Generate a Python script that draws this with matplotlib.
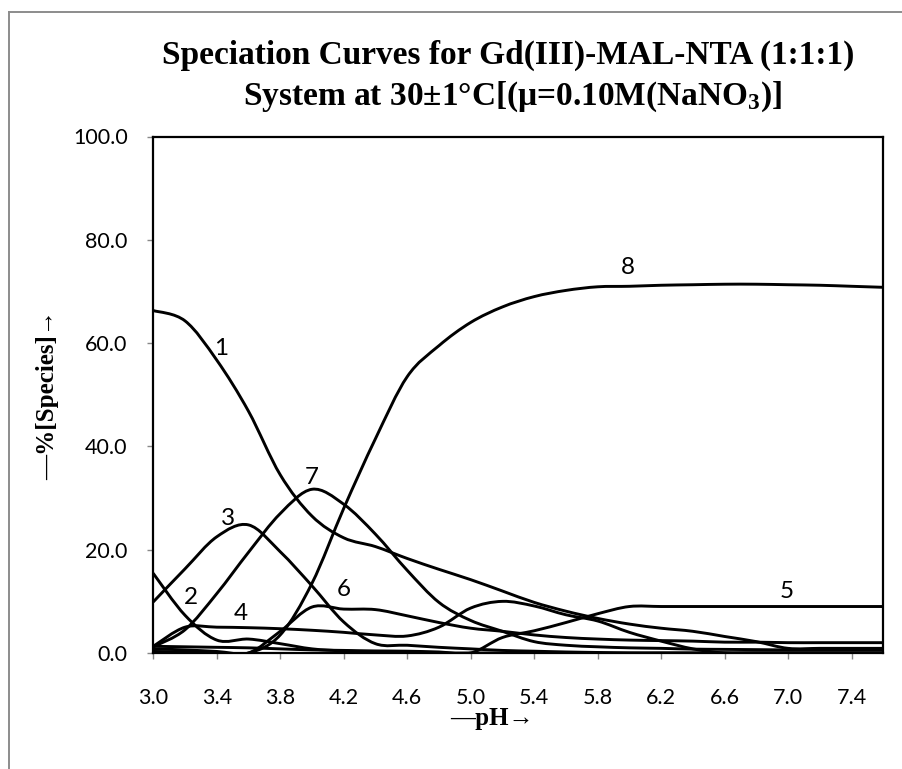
import matplotlib
matplotlib.use('Agg')
import matplotlib.pyplot as plt
import numpy as np
from matplotlib.path import Path
from matplotlib.patches import PathPatch
from matplotlib.lines import Line2D

plt.rcParams['mathtext.fontset'] = 'custom'
plt.rcParams['mathtext.rm'] = 'Liberation Serif:bold'
plt.rcParams['mathtext.bf'] = 'Liberation Serif:bold'
plt.rcParams['mathtext.it'] = 'Liberation Serif:bold'

# pH values and % of each species
ph = [3.0, 3.2, 3.4, 3.6, 3.8, 4.0, 4.2, 4.4, 4.6, 4.8, 5.0, 5.2,
      5.4, 5.6, 5.8, 6.0, 6.2, 6.4, 6.6, 6.8, 7.0, 7.2, 7.4, 7.6]

sp1 = [66.3, 64.3, 56.7, 46.8, 34.5, 26.5, 22.3, 20.6, 18.3, 16.2, 14.2, 12.0,
       9.8, 8.1, 6.7, 5.6, 4.8, 4.2, 3.2, 2.2, 0.9, 0.9, 0.9, 0.9]
sp2 = [15.4, 7.3, 2.5, 2.7, 1.8, 0.8, 0.4, 0.2, 0.1, 0.0, 0.0, 0.0,
       0.0, 0.0, 0.0, 0.0, 0.0, 0.0, 0.0, 0.0, 0.0, 0.0, 0.0, 0.0]
sp3 = [9.9, 16.3, 22.5, 24.8, 19.6, 13.0, 6.0, 1.8, 1.5, 1.1, 0.8, 0.5,
       0.35, 0.2, 0.1, 0.0, 0.0, 0.0, 0.0, 0.0, 0.0, 0.0, 0.0, 0.0]
sp4 = [1.3, 5.0, 5.0, 4.9, 4.7, 4.4, 4.0, 3.5, 3.3, 5.0, 8.7, 10.0,
       9.1, 7.4, 6.2, 4.0, 2.3, 0.8, 0.0, 0.0, 0.0, 0.0, 0.0, 0.0]
sp5 = [1.3, 1.2, 1.1, 1.0, 0.8, 0.6, 0.5, 0.4, 0.35, 0.2, 0.0, 3.0,
       4.3, 5.9, 7.6, 9.0, 9.0, 9.0, 9.0, 9.0, 9.0, 9.0, 9.0, 9.0]
sp6 = [0.3, 0.2, 0.1, 0.0, 4.2, 8.9, 8.5, 8.4, 7.2, 5.9, 4.8, 4.2,
       3.5, 3.0, 2.7, 2.5, 2.4, 2.3, 2.1, 2.1, 2.0, 2.0, 2.0, 2.0]
sp7 = [1.2, 4.5, 11.5, 19.5, 27.0, 31.7, 28.8, 23.0, 16.0, 9.8, 6.3, 4.2,
       2.2, 1.5, 1.2, 1.0, 0.9, 0.75, 0.7, 0.65, 0.6, 0.6, 0.6, 0.6]
sp8 = [0.8, 0.6, 0.3, 0.0, 3.5, 13.5, 28.0, 41.5, 53.5, 59.5, 64.0, 67.0,
       69.0, 70.2, 70.9, 71.0, 71.2, 71.3, 71.4, 71.4, 71.3, 71.2, 71.0, 70.8]

species = [sp1, sp2, sp3, sp4, sp5, sp6, sp7, sp8]

# curve numbers: (label, pH, %)
labels = [('1', 3.43, 58.9), ('2', 3.24, 10.8), ('3', 3.47, 26.1), ('4', 3.55, 7.7),
          ('5', 6.99, 11.9), ('6', 4.20, 12.2), ('7', 4.00, 34.0), ('8', 5.99, 74.7)]


def smooth_path(x, y):
    # smoothed line like a spreadsheet chart: Catmull-Rom segments as cubic Beziers
    pts = np.column_stack([x, y])
    ext = np.vstack([pts[0], pts, pts[-1]])
    verts = [pts[0]]
    codes = [Path.MOVETO]
    for i in range(len(pts) - 1):
        p0, p1, p2, p3 = ext[i], ext[i + 1], ext[i + 2], ext[i + 3]
        verts += [p1 + (p2 - p0) / 6, p2 - (p3 - p1) / 6, p2]
        codes += [Path.CURVE4] * 3
    return Path(verts, codes)


fig = plt.figure(figsize=(9.03, 7.69), dpi=100)
ax = fig.add_axes([153.3 / 903, 1 - 653 / 769, 730 / 903, 516.5 / 769])

for s in species:
    ax.add_patch(PathPatch(smooth_path(ph, s), fill=False, lw=2.1, ec='black',
                           capstyle='round', joinstyle='round'))

for txt, xv, yv in labels:
    ax.text(xv, yv, txt, fontsize=17.5, family='Lato', ha='center', va='center')

ax.set_xlim(3.0, 7.6)
ax.set_ylim(0, 100)
ax.set_xticks(np.arange(3.0, 7.45, 0.4))
ax.set_xticklabels(['%.1f' % v for v in np.arange(3.0, 7.45, 0.4)])
ax.set_yticks(np.arange(0, 101, 20))
ax.set_yticklabels(['%.1f' % v for v in np.arange(0, 101, 20)])
for lbl in ax.get_xticklabels() + ax.get_yticklabels():
    lbl.set_family('Lato')
    lbl.set_fontsize(15.5)
ax.tick_params(axis='both', direction='out', length=4.5, width=1, color='#888888')
ax.tick_params(axis='x', pad=21)
ax.tick_params(axis='y', pad=14)
for side in ['left', 'bottom', 'top', 'right']:
    ax.spines[side].set_linewidth(1.6)
    ax.spines[side].set_color('black')

serif = ['Liberation Serif', 'DejaVu Serif']
fig.text(508 / 903, 1 - 55 / 769, 'Speciation Curves for Gd(III)-MAL-NTA (1:1:1)',
         family=serif, weight='bold', fontsize=24, ha='center', va='center')
fig.text(512 / 903, 1 - 97 / 769, r'System at 30±1°C[(μ=0.10M(NaNO$_\mathbf{3}$)]',
         family=serif, weight='bold', fontsize=24, ha='center', va='center')
fig.text(492 / 903, 1 - 718 / 769, '—pH→', family=serif, weight='bold',
         fontsize=18, ha='center', va='center')
fig.text(48 / 903, 1 - 395 / 769, '—%[Species]→', family=serif, weight='bold',
         fontsize=18, ha='center', va='center', rotation=90)

# chart area frame
fig.add_artist(Line2D([9 / 903, 9 / 903], [0, 1 - 12 / 769], color='#8c8c8c', lw=1.4))
fig.add_artist(Line2D([9 / 903, 1], [1 - 12 / 769, 1 - 12 / 769], color='#8c8c8c', lw=1.4))

fig.savefig('out.png', dpi=100)
